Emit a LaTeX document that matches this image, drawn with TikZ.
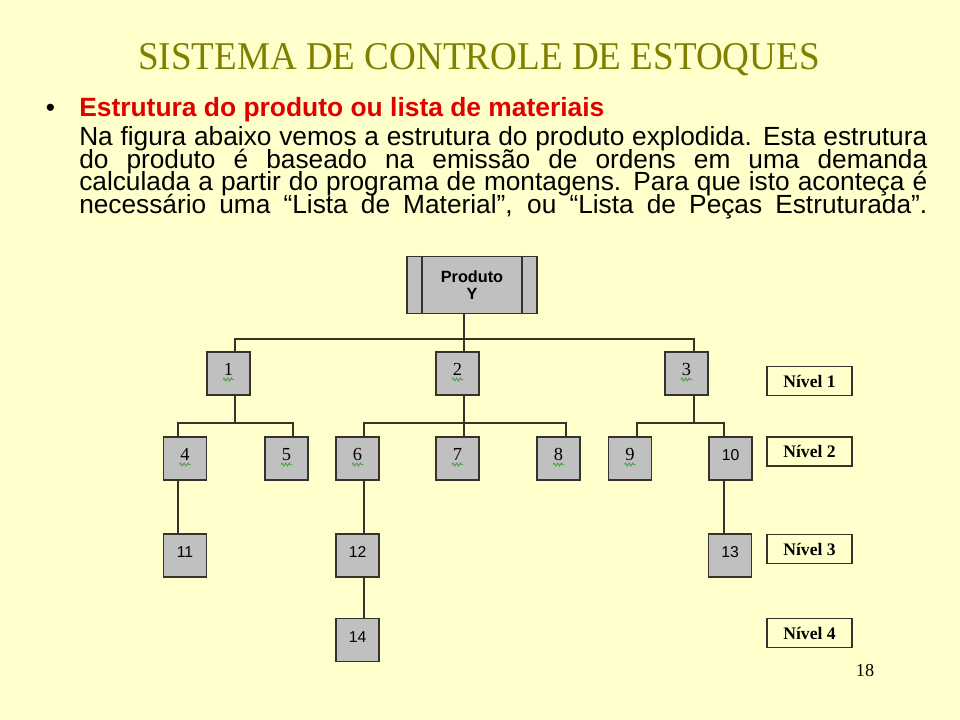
\documentclass[tikz,border=0pt]{standalone}
\usepackage{fontspec}
\setmainfont{Liberation Serif}
\newfontfamily\arial{Liberation Sans}
\usetikzlibrary{calc,decorations.pathmorphing}
\definecolor{bg}{HTML}{FFFFCC}
\definecolor{olivet}{HTML}{7F7F00}
\definecolor{redh}{HTML}{E00000}
\definecolor{boxg}{HTML}{C0C0C0}
\definecolor{edgec}{HTML}{34342C}
\definecolor{squig}{HTML}{4FA04A}
\newcommand\wav[1]{\draw[wavy] ($(#1.center)+(-5.5,6)$) -- ++(11,0);}
\begin{document}
\begin{tikzpicture}[x=0.75pt,y=-0.75pt,
 part/.style={draw=edgec,line width=1.4pt,fill=boxg,minimum size=32.3pt,inner sep=0pt,text height=9.5pt,text depth=6pt},
 num/.style={part,font=\fontsize{13.8}{13.8}\selectfont},
 snum/.style={part,font=\arial\fontsize{11.8}{11.8}\selectfont},
 levelbox/.style={draw=edgec,line width=1.2pt,fill=bg,minimum width=63.75pt,minimum height=21.75pt,inner sep=0pt,font=\bfseries\fontsize{13.2}{13.2}\selectfont},
 conn/.style={draw=edgec,line width=1.2pt},
 wavy/.style={draw=squig,line width=0.7pt,decorate,decoration={zigzag,amplitude=1.1pt,segment length=2.8pt}},
 ptext/.style={anchor=base west,inner sep=0pt,font=\arial\fontsize{19.7}{19.7}\selectfont}]
\useasboundingbox (0,0) rectangle (960,720);
\fill[bg] (0,0) rectangle (960,720);

% title and text
\node[anchor=base west,inner sep=0pt,text=olivet] (title) at (138,70)
  {\scalebox{0.943}[1]{\fontsize{29.5}{30}\selectfont SISTEMA DE CONTROLE DE ESTOQUES}};
\node[anchor=base west,inner sep=0pt,font=\arial\fontsize{19.7}{19.7}\selectfont] (bullet) at (45.5,117) {•};
\node[anchor=base west,inner sep=0pt,text=redh,font=\arial\bfseries\fontsize{19.8}{19.8}\selectfont] (head) at (79,117)
  {Estrutura do produto ou lista de materiais};
\node[ptext] (l1) at (79,146) {\makebox[636pt][s]{Na figura abaixo vemos a estrutura do produto explodida. Esta estrutura}};
\node[ptext] (l2) at (79,168.5) {\makebox[636pt][s]{do produto é baseado na emissão de ordens em uma demanda}};
\node[ptext] (l3) at (79,191) {\makebox[636pt][s]{calculada a partir do programa de montagens. Para que isto aconteça é}};
\node[ptext] (l4) at (79,213.5) {\makebox[636pt][s]{necessário uma “Lista de Material”, ou “Lista de Peças Estruturada”.}};

% product box
\node[draw=edgec,line width=1.4pt,fill=boxg,minimum width=97.5pt,minimum height=42.75pt,inner sep=0pt,
  align=center,font=\arial\bfseries\fontsize{12.2}{12.75}\selectfont] (py) at (472,285) {Produto\\Y};
\draw[conn] ([xshift=12pt]py.north west) -- ([xshift=12pt]py.south west);
\draw[conn] ([xshift=-12pt]py.north east) -- ([xshift=-12pt]py.south east);

% parts
\node[num] (b1) at (228.5,373.5) {1};
\node[num] (b2) at (457.5,373.5) {2};
\node[num] (b3) at (686.5,373.5) {3};
\node[num] (b4) at (185,458.5) {4};
\node[num] (b5) at (286.5,458.5) {5};
\node[num] (b6) at (357.5,458.5) {6};
\node[num] (b7) at (457.5,458.5) {7};
\node[num] (b8) at (558.5,458.5) {8};
\node[num] (b9) at (630,458.5) {9};
\node[snum] (b10) at (730.5,458.5) {10};
\node[snum] (b11) at (185,555.5) {11};
\node[snum] (b12) at (357.5,555.5) {12};
\node[snum] (b13) at (730,555.5) {13};
\node[snum] (b14) at (357.5,640) {14};
\foreach \n in {b1,b2,b3,b4,b5,b6,b7,b8,b9}{\wav{\n}}

% level labels
\node[levelbox] (n1) at (809.5,381) {Nível 1};
\node[levelbox] (n2) at (809.5,451.5) {Nível 2};
\node[levelbox] (n3) at (809.5,549) {Nível 3};
\node[levelbox] (n4) at (809.5,633) {Nível 4};

% connector coordinates
\coordinate (a1) at (235,339);
\coordinate (a2) at (464,339);
\coordinate (a3) at (694,339);
\coordinate (e1) at (235,423);
\coordinate (e2) at (464,423);
\coordinate (e3) at (694,423);
\coordinate (d4) at (178,423);
\coordinate (d5) at (293,423);
\coordinate (d6) at (364,423);
\coordinate (d8) at (566,423);
\coordinate (d9) at (637,423);
\coordinate (d10) at (724,423);

% level 1
\draw[conn] (py.south -| a2) -- (b2.north -| a2);
\draw[conn] (b1.north -| a1) -- (a1) -- (a3) -- (b3.north -| a3);
% level 2
\draw[conn] (b1.south -| e1) -- (e1);
\draw[conn] (b4.north -| d4) -- (d4) -- (d5) -- (b5.north -| d5);
\draw[conn] (b2.south -| e2) -- (b7.north -| e2);
\draw[conn] (b6.north -| d6) -- (d6) -- (d8) -- (b8.north -| d8);
\draw[conn] (b3.south -| e3) -- (e3);
\draw[conn] (b9.north -| d9) -- (d9) -- (d10) -- (b10.north -| d10);
% level 3 and 4
\draw[conn] (b4.south -| d4) -- (b11.north -| d4);
\draw[conn] (b6.south -| d6) -- (b12.north -| d6);
\draw[conn] (b12.south -| d6) -- (b14.north -| d6);
\draw[conn] (b10.south -| d10) -- (b13.north -| d10);

\node[anchor=base,inner sep=0pt,font=\fontsize{13.7}{13.7}\selectfont] (pg) at (865,676) {18};
\end{tikzpicture}
\end{document}
